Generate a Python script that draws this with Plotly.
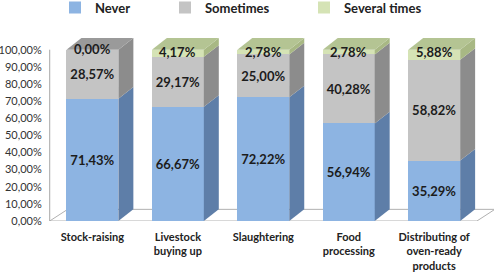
import plotly.graph_objects as go

categories = ["Stock-raising", "Livestock<br>buying up", "Slaughtering", "Food<br>processing", "Distributing of<br>oven-ready<br>products"]
never = [71.43, 66.67, 72.22, 56.94, 35.29]
sometimes = [28.57, 29.17, 25.00, 40.28, 58.82]
several = [0.00, 4.17, 2.78, 2.78, 5.88]
tick_vals = [0, 10, 20, 30, 40, 50, 60, 70, 80, 90, 100]

FONT = "Lato"
TXT = "#1c1c1c"
fmt = lambda v: f"{v:.2f}".replace(".", ",") + "%"

series = [
    ("Never", never, "#8DB4E2", "#5E7EA8", "#6F8FB8", "legend"),
    ("Sometimes", sometimes, "#C4C4C4", "#8C8C8C", "#9A9A9A", "legend2"),
    ("Several times", several, "#D5E3B5", "#A8B884", "#B4C493", "legend3"),
]

BAR_W = 0.608
DX, DY = 0.175, 6.8

fig = go.Figure()
for i, (name, vals, front, side, top, lg) in enumerate(series):
    show_txt = i < 2
    fig.add_trace(go.Bar(
        x=list(range(len(categories))), y=vals, name=name, width=BAR_W, legend=lg, showlegend=True,
        marker=dict(color=front, line=dict(width=0)),
        text=["<b>" + fmt(v) + "</b>" for v in vals] if show_txt else None,
        textposition="inside" if show_txt else "none", insidetextanchor="middle",
        textfont=dict(family=FONT, size=13, color=TXT)))

shapes = []
n = len(categories)
fx0, fx1 = -0.5, n - 0.5
shapes.append(dict(type="path", xref="x", yref="y", layer="below",
                   path=f"M{fx0},0 L{fx1},0 L{fx1 + 0.21},{DY} L{fx0 + 0.21},{DY} Z",
                   fillcolor="white", line=dict(color="#B0B0B0", width=1)))
shapes.append(dict(type="line", xref="x", yref="y", x0=fx0, x1=fx0, y0=0, y1=100,
                   line=dict(color="#A6A6A6", width=1), layer="below"))
for ci in range(n):
    base = 0.0
    xr = ci + BAR_W / 2
    xl = ci - BAR_W / 2
    top_color = None
    for name, vals, front, side, top, lg in series:
        v = vals[ci]
        if v > 0:
            t = base + v
            shapes.append(dict(type="path", xref="x", yref="y", layer="above",
                               path=f"M{xr},{base} L{xr + DX},{base + DY} L{xr + DX},{t + DY} L{xr},{t} Z",
                               fillcolor=side, line=dict(width=0)))
            base = t
            top_color = top
    shapes.append(dict(type="path", xref="x", yref="y", layer="above",
                       path=f"M{xl},{base} L{xr},{base} L{xr + DX},{base + DY} L{xl + DX},{base + DY} Z",
                       fillcolor=top_color, line=dict(width=0)))

annotations = []
for ci in range(n):
    tot = never[ci] + sometimes[ci] + several[ci]
    annotations.append(dict(x=ci, y=tot, text="<b>" + fmt(several[ci]) + "</b>", showarrow=False,
                            yanchor="middle", yshift=-2 if several[ci] > 0 else 1,
                            font=dict(family=FONT, size=13, color=TXT)))

leg_common = dict(orientation="h", yref="container", y=0.972, yanchor="middle", xref="container", xanchor="left",
                  font=dict(family=FONT, size=13, color="#222222", weight="bold"), bgcolor="rgba(0,0,0,0)",
                  borderwidth=0)
fig.update_layout(
    barmode="stack", width=495, height=274,
    margin=dict(l=48, r=1, t=36, b=53),
    paper_bgcolor="white", plot_bgcolor="white",
    font=dict(family=FONT, size=11, color="#333333"),
    uniformtext=dict(mode="show", minsize=13),
    shapes=shapes, annotations=annotations,
    showlegend=True,
    legend=dict(x=55 / 495, **leg_common),
    legend2=dict(x=165 / 495, **leg_common),
    legend3=dict(x=304 / 495, **leg_common),
)
fig.update_yaxes(range=[0, 108], tickvals=tick_vals, ticktext=[fmt(v) for v in tick_vals], showgrid=False,
                 showline=False, zeroline=False, ticks="outside", ticklen=3, tickcolor="rgba(0,0,0,0)",
                 automargin=False, tickfont=dict(family=FONT, size=11, color="#333333"))
fig.update_xaxes(range=[-0.52, n - 0.3], tickvals=list(range(n)),
                 ticktext=["<b>" + c + "</b>" for c in categories], automargin=False,
                 showline=False, zeroline=False, showgrid=False, ticks="", ticklabelstandoff=8,
                 tickfont=dict(family=FONT, size=11, color="#222222"))
fig.write_html("out.html")
